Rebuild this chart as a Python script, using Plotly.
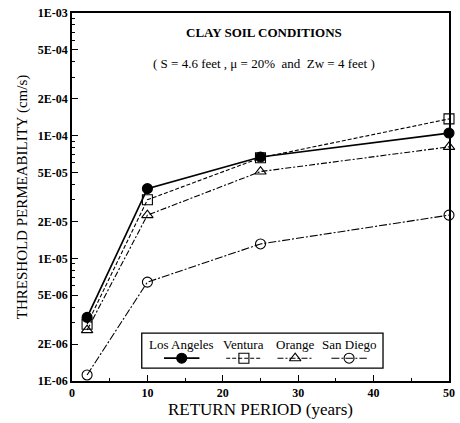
import plotly.graph_objects as go

# ---- data ----
return_period = [2, 10, 25, 50]
los_angeles = [3.3e-6, 3.7e-5, 6.7e-5, 1.05e-4]
ventura = [2.9e-6, 3.0e-5, 6.6e-5, 1.37e-4]
orange = [2.6e-6, 2.25e-5, 5.1e-5, 8.1e-5]
san_diego = [1.12e-6, 6.4e-6, 1.31e-5, 2.25e-5]

series_names = ["Los Angeles", "Ventura", "Orange", "San Diego"]
y_tickvals = [1e-6, 2e-6, 5e-6, 1e-5, 2e-5, 5e-5, 1e-4, 2e-4, 5e-4, 1e-3]
y_ticktext = ["1E-06", "2E-06", "5E-06", "1E-05", "2E-05", "5E-05",
              "1E-04", "2E-04", "5E-04", "1E-03"]
x_tickvals = [0, 10, 20, 30, 40, 50]

FONT = "Liberation Serif"

styles = [
    dict(dash="solid", width=1.7, symbol="circle"),
    dict(dash="4px,2px", width=1.1, symbol="square-open"),
    dict(dash="6px,2px,2px,2px", width=1.1, symbol="triangle-up-open"),
    dict(dash="8px,2px,2px,2px", width=1.1, symbol="circle-open"),
]
all_series = [los_angeles, ventura, orange, san_diego]

fig = go.Figure()
for name, vals, st in zip(series_names, all_series, styles):
    fig.add_trace(go.Scatter(
        x=return_period, y=vals, name=name, mode="lines+markers",
        line=dict(color="black", width=st["width"], dash=st["dash"]),
        marker=dict(symbol=st["symbol"], size=10, color="black",
                    line=dict(color="black", width=1.1)),
        showlegend=False, cliponaxis=False,
    ))

# ---- hand-made legend on overlay axes (0..1 fractions of plot area) ----
leg_centers = [0.291, 0.456, 0.592, 0.735]
leg_half = 0.047
leg_y_sym = 0.062
for name, cx, st in zip(series_names, leg_centers, styles):
    fig.add_trace(go.Scatter(
        x=[cx - leg_half, cx, cx + leg_half], y=[leg_y_sym] * 3, xaxis="x2", yaxis="y2",
        mode="lines", line=dict(color="black", width=st["width"], dash=st["dash"]),
        showlegend=False, hoverinfo="skip"))
    fig.add_trace(go.Scatter(
        x=[cx], y=[leg_y_sym], xaxis="x2", yaxis="y2", mode="markers",
        marker=dict(symbol=st["symbol"], size=10, color="black",
                    line=dict(color="black", width=1.1)),
        showlegend=False, hoverinfo="skip"))
    fig.add_annotation(x=cx, y=0.099, xref="x2", yref="y2", text=name,
                       showarrow=False, font=dict(family=FONT, size=13, color="black"),
                       yanchor="middle")

fig.add_shape(type="rect", xref="x2", yref="y2", x0=0.185, x1=0.825, y0=0.035, y1=0.130,
              line=dict(color="black", width=1.3), fillcolor="rgba(0,0,0,0)")

fig.add_annotation(x=0.509, y=0.948, xref="x2", yref="y2", text="<b>CLAY SOIL CONDITIONS</b>",
                   showarrow=False, font=dict(family=FONT, size=13, color="black"))
fig.add_annotation(x=0.509, y=0.864, xref="x2", yref="y2",
                   text="( S = 4.6 feet , \u03bc = 20%&nbsp;&nbsp;and&nbsp;&nbsp;Zw = 4 feet )",
                   showarrow=False, font=dict(family=FONT, size=13, color="black"))

fig.update_layout(
    width=460, height=423,
    margin=dict(l=72, r=5, t=13, b=42),
    paper_bgcolor="white", plot_bgcolor="white",
    font=dict(family=FONT, color="black", size=12),
    xaxis=dict(
        range=[0, 50], tickvals=x_tickvals, ticks="inside", ticklen=6,
        tickwidth=1.2, tickcolor="black",
        showline=True, linecolor="black", linewidth=1.5, mirror=True,
        showgrid=False, zeroline=False,
        tickfont=dict(family=FONT, size=12, color="black", weight="bold"),
        title=dict(text="RETURN PERIOD (years)",
                   font=dict(family=FONT, size=17, color="black"), standoff=3),
        minor=dict(tickvals=[5, 15, 25, 35, 45], ticks="inside", ticklen=3,
                   tickcolor="black", showgrid=False),
    ),
    yaxis=dict(
        type="log", range=[-6, -3], tickvals=y_tickvals, ticktext=y_ticktext,
        ticks="inside", ticklen=6, tickwidth=1.2, tickcolor="black",
        showline=True, linecolor="black", linewidth=1.5, mirror=True,
        showgrid=False, zeroline=False,
        tickfont=dict(family=FONT, size=12, color="black", weight="bold"),
        title=dict(text="THRESHOLD PERMEABILITY (cm/s)",
                   font=dict(family=FONT, size=15, color="black"), standoff=7),
        minor=dict(tickvals=[m * 10 ** e for e in (-6, -5, -4) for m in (3, 4, 6, 7, 8, 9)],
                   ticks="inside", ticklen=3, tickcolor="black", showgrid=False),
    ),
    xaxis2=dict(range=[0, 1], overlaying="x", visible=False, fixedrange=True),
    yaxis2=dict(range=[0, 1], overlaying="y", visible=False, fixedrange=True),
)

fig.write_html("out.html")
